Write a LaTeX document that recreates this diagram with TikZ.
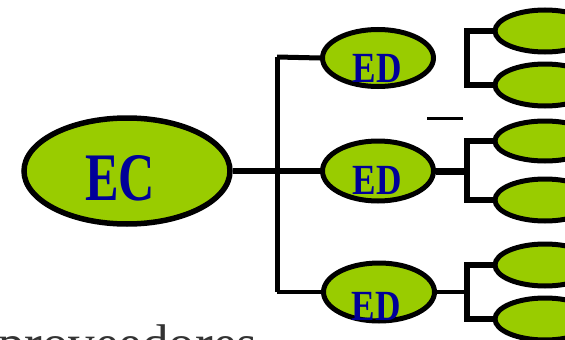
\documentclass[tikz,border=0pt]{standalone}
\usepackage{fontspec}
\setmainfont{Liberation Serif}
\usetikzlibrary{shapes.geometric}
\definecolor{leaf}{HTML}{99CC00}
\definecolor{txtblue}{HTML}{000099}
\begin{document}
\begin{tikzpicture}[x=1pt,y=-1pt,
  oval/.style={ellipse, draw=black, fill=leaf, inner sep=0pt, line width=5pt},
  lbl/.style={text=txtblue, inner sep=0pt, anchor=center},
  wire/.style={line width=#1, line join=miter, line cap=butt},
  wire/.default=5pt]
\clip (0,0) rectangle (565,340);
\fill[white] (0,0) rectangle (565,340);
% main ellipse
\node[oval, minimum width=206pt, minimum height=106pt, line width=5.5pt] (ec) at (127,171) {};
\node[lbl, font=\fontsize{68}{68}\selectfont\bfseries, xscale=0.74] (ect) at (120,178) {EC};
% ED ellipses
\node[oval, minimum width=111pt, minimum height=57pt] (edT) at (378,58) {};
\node[oval, minimum width=111pt, minimum height=60pt] (edM) at (378,171) {};
\node[oval, minimum width=111pt, minimum height=58pt] (edB) at (379,292) {};
% small ellipses
\node[oval, minimum width=100pt, minimum height=42pt] (s1) at (545,31) {};
\node[oval, minimum width=100pt, minimum height=42pt] (s2) at (545,85) {};
\node[oval, minimum width=100pt, minimum height=40pt] (s3) at (545,141) {};
\node[oval, minimum width=100pt, minimum height=42pt] (s4) at (545,200) {};
\node[oval, minimum width=100pt, minimum height=42pt] (s5) at (545,265) {};
\node[oval, minimum width=100pt, minimum height=42pt] (s6) at (545,319) {};
% trunk
\coordinate (vt) at (277,57);
\coordinate (vb) at (277,292);
\draw[wire] (vt) -- (vb);
\draw[wire=6.5pt] (ec.east) -- (edM.west);
\draw[wire=5pt] (vt) -- (edT.west);
\draw[wire=4pt] (vb) -- (edB.west);
% brackets
\coordinate (bt) at (467,58);
\coordinate (bm) at (467,171);
\coordinate (bb) at (467,292);
\draw[wire=6pt] (s1.west) -| (bt) |- (s2.west);
\draw[wire=6pt] (s3.west) -| (bm) |- (s4.west);
\draw[wire=6pt] (s5.west) -| (bb) |- (s6.west);
\draw[wire=7pt] (edM.east) -- (bm);
\draw[wire=4pt] (edB.east) -- (bb);
% stray dash
\coordinate (da) at (427,118);
\coordinate (db) at (463,118);
\draw[wire=3pt] (da) -- (db);
% ED labels
\node[lbl, font=\fontsize{43}{43}\selectfont\bfseries, xscale=0.82] (edTt) at (377,68) {ED};
\node[lbl, font=\fontsize{43}{43}\selectfont\bfseries, xscale=0.82] (edMt) at (377,180) {ED};
\node[lbl, font=\fontsize{43}{43}\selectfont\bfseries, xscale=0.82] (edBt) at (376,306) {ED};
% clipped bottom text
\node[anchor=base west, inner sep=0pt, font=\fontsize{53}{53}\selectfont, text=black!80] (prov) at (-2,361) {proveedores};
\end{tikzpicture}
\end{document}
